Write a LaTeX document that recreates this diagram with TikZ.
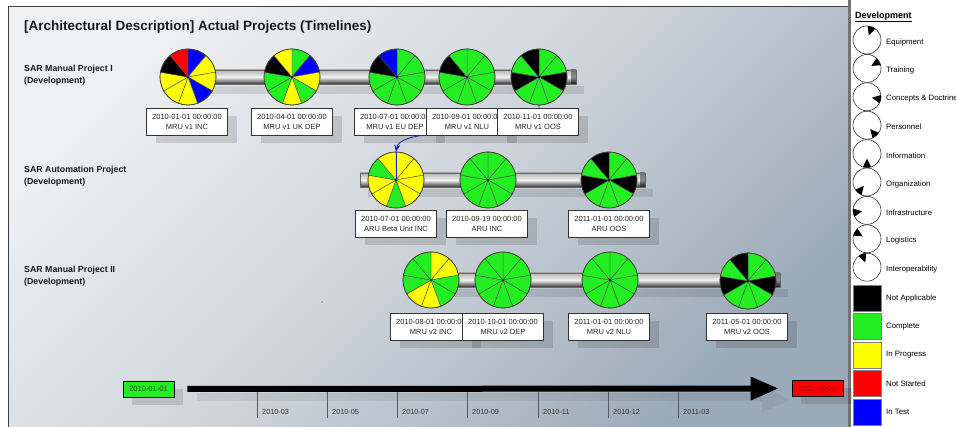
\documentclass[tikz,border=0pt]{standalone}
\usepackage{fontspec}
\setmainfont{Liberation Sans}
\usetikzlibrary{arrows.meta,shadows}
\definecolor{pG}{RGB}{34,238,34}
\definecolor{pY}{RGB}{255,255,0}
\definecolor{pR}{RGB}{255,0,0}
\definecolor{pB}{RGB}{0,0,255}
\definecolor{pK}{RGB}{0,0,0}
\definecolor{bgA}{RGB}{238,240,242}
\definecolor{bgM}{RGB}{205,212,218}
\definecolor{bgB}{RGB}{155,170,184}
\definecolor{navy}{RGB}{20,40,200}
\tikzset{
 lbl/.style={draw=black!80, line width=0.5pt, fill=white, minimum width=81pt, minimum height=27pt,
   inner sep=1pt, align=center, font=\fontsize{7.5}{10.5}\selectfont, text=black!85,
   drop shadow={shadow xshift=9pt, shadow yshift=-8pt, fill=black, opacity=0.13}},
 pienode/.style={circle, minimum size=56pt, inner sep=0pt},
 rowlbl/.style={anchor=north west, align=left, font=\bfseries\fontsize{8.8}{12}\selectfont, inner sep=0pt, text=black!90},
 legtxt/.style={anchor=west, inner sep=0pt, font=\fontsize{7.8}{9}\selectfont},
 legicon/.style={circle, draw=black!80, line width=0.6pt, minimum size=28pt, inner sep=0pt},
 legsq/.style={draw=black!50, line width=0.4pt, minimum width=28pt, minimum height=26pt, inner sep=0pt},
 tick/.style={draw=black!65, line width=0.6pt},
 ticklbl/.style={anchor=west, inner sep=0pt, font=\fontsize{7.3}{9}\selectfont, text=black!80},
 datebox/.style={draw=black, line width=0.6pt, minimum width=51pt, minimum height=16pt, inner sep=0pt,
   font=\fontsize{7.5}{9}\selectfont,
   drop shadow={shadow xshift=9pt, shadow yshift=-8pt, fill=black, opacity=0.12}},
 dep/.style={draw=navy, line width=0.8pt},
}
\newcommand\drawpie[2]{%
  \foreach \c [count=\i from 0] in {#2} {%
    \filldraw[fill=\c, draw=black!70, line width=0.4pt] (#1.center) -- ++({90-40*\i}:28pt)
      arc[start angle={90-40*\i}, delta angle=-40, radius=28pt] -- cycle;
  }
  \draw[black!70!olive, line width=0.7pt] (#1.center) circle (28pt);
  \fill[black] (#1.center) circle (0.9pt);
}
\newcommand\drawbar[3]{%
  \fill[black, opacity=0.10] (#1+8,#3-9) rectangle (#2+8,#3-17);
  \shadedraw[top color=black!30, bottom color=black!80, middle color=black!5, draw=black!60, line width=0.4pt]
     (#1,#3+7) rectangle (#2,#3-7);
  \shade[top color=black!55, bottom color=black!90, middle color=black!45] (#2-5,#3+7) rectangle (#2,#3-7);
}
\begin{document}
\begin{tikzpicture}[x=1pt,y=1pt]
\useasboundingbox (0,0) rectangle (956,-427);
\fill[white] (0,0) rectangle (956,-427);
% main panel
\shade[top color=bgA, bottom color=bgB, middle color=bgM, shading angle=45] (8,-7) rectangle (849,-427);
\draw[black!75, line width=1pt] (8,-427) -- (8,-7) -- (849,-7);
% legend panel
\fill[white] (849,0) rectangle (956,-427);
\fill[black!55] (848,0) rectangle (851,-427);

% title and row labels
\node[anchor=west, inner sep=0pt, font=\bfseries\fontsize{13.5}{16}\selectfont, text=black!90] (title) at (24,-27)
  {[Architectural Description] Actual Projects (Timelines)};
\node[rowlbl] (row1) at (24,-65) {SAR Manual Project I\\(Development)};
\node[rowlbl] (row2) at (24,-166) {SAR Automation Project\\(Development)};
\node[rowlbl] (row3) at (24,-266) {SAR Manual Project II\\(Development)};

% bars
\drawbar{162}{576}{-77}
\drawbar{360}{645}{-180}
\drawbar{440}{780}{-280}

% pies
\node[pienode] (p11) at (188,-77) {};
\node[pienode] (p12) at (292,-77) {};
\node[pienode] (p13) at (397,-77) {};
\node[pienode] (p14) at (467,-77) {};
\node[pienode] (p15) at (539,-77) {};
\node[pienode] (p21) at (396,-180) {};
\node[pienode] (p22) at (488,-180) {};
\node[pienode] (p23) at (609,-180) {};
\node[pienode] (p31) at (431,-280) {};
\node[pienode] (p32) at (503,-280) {};
\node[pienode] (p33) at (610,-280) {};
\node[pienode] (p34) at (748,-281) {};
\drawpie{p11}{pB,pY,pY,pB,pY,pY,pY,pK,pR}
\drawpie{p12}{pG,pB,pY,pG,pY,pG,pG,pK,pY}
\drawpie{p13}{pG,pG,pG,pG,pG,pG,pG,pK,pB}
\drawpie{p14}{pG,pG,pG,pG,pG,pG,pG,pK,pG}
\drawpie{p15}{pG,pG,pK,pG,pG,pG,pK,pG,pK}
\drawpie{p21}{pY,pY,pY,pY,pG,pY,pY,pG,pY}
\drawpie{p22}{pG,pG,pG,pG,pG,pG,pG,pG,pG}
\drawpie{p23}{pG,pG,pK,pG,pG,pG,pK,pG,pK}
\drawpie{p31}{pY,pY,pG,pG,pY,pY,pG,pG,pG}
\drawpie{p32}{pG,pG,pG,pG,pG,pG,pG,pG,pG}
\drawpie{p33}{pG,pG,pG,pG,pG,pG,pG,pG,pG}
\drawpie{p34}{pG,pG,pK,pG,pG,pG,pK,pG,pK}

% dependency connector
\draw[dep, -{Stealth[length=7pt,width=6pt]}] (p15.south) -- ++(0,-8)
   .. controls (520,-128) and (470,-132) .. (433,-134)
   .. controls (412,-136) and (398,-140) .. (p21.north);
\draw[dep] (p21.north) -- (p21.center);

% label boxes
\node[lbl] (b11) at (187,-122) {2010-01-01 00:00:00\\MRU v1 INC};
\node[lbl] (b12) at (292,-122) {2010-04-01 00:00:00\\MRU v1 UK DEP};
\node[lbl] (b13) at (395,-122) {2010-07-01 00:00:00\\MRU v1 EU DEP};
\node[lbl] (b14) at (467,-122) {2010-09-01 00:00:00\\MRU v1 NLU};
\node[lbl] (b15) at (538,-122) {2010-11-01 00:00:00\\MRU v1 OOS};
\node[lbl] (b21) at (396,-224) {2010-07-01 00:00:00\\ARU Beta Unit INC};
\node[lbl] (b22) at (487,-224) {2010-09-19 00:00:00\\ARU INC};
\node[lbl] (b23) at (609,-224) {2011-01-01 00:00:00\\ARU OOS};
\node[lbl] (b31) at (431,-327) {2010-08-01 00:00:00\\MRU v2 INC};
\node[lbl] (b32) at (503,-327) {2010-10-01 00:00:00\\MRU v2 DEP};
\node[lbl] (b33) at (609,-327) {2011-01-01 00:00:00\\MRU v2 NLU};
\node[lbl] (b34) at (747,-327) {2011-05-01 00:00:00\\MRU v2 OOS};

\fill[black!70] (322,-302) circle (0.6pt);

% time axis
\node[datebox, fill=pG, text=black!70!green] (t0) at (148.5,-389) {2010-01-01};
\node[datebox, fill=pR, text=black!40!red] (t1) at (817.5,-388.5) {2011-06-29};
\fill[black, opacity=0.07] (197,-393) rectangle (762,-401);
\fill[black, opacity=0.05] (762,-386) -- (790,-400) -- (762,-412) -- cycle;
\draw[line width=6pt, -{Triangle[length=28pt 0, width=22pt 0]}] ([xshift=13pt]t0.east) -- ([xshift=-13pt]t1.west);
\foreach \x/\t in {257/2010-03, 327/2010-05, 397/2010-07, 467/2010-09, 538/2010-11, 608/2010-12, 678/2011-03} {
  \draw[tick] (\x,-392) -- (\x,-418);
  \node[ticklbl] at (\x+5,-412) {\t};
}

% legend
\node[anchor=west, inner sep=0pt, font=\bfseries\fontsize{9}{11}\selectfont] (legtitle) at (855,-17) {\underline{Development}};
\foreach \nm/\c [count=\i from 0] in {Equipment/70, Training/30, Concepts \& Doctrine/-10, Personnel/-50,
    Information/-90, Organization/-130, Infrastructure/-170, Logistics/150, Interoperability/110} {
  \node[legicon] (li\i) at (867,{-40-28.4*\i}) {};
  \fill[black] ([shift={(\c:5pt)}]li\i.center) -- ([shift={({\c+17}:14pt)}]li\i.center)
     arc[start angle={\c+17}, end angle={\c-17}, radius=14pt] -- cycle;
  \node[legtxt] (lt\i) at (886,{-42-28.4*\i}) {\nm};
}
\foreach \col/\nm [count=\i from 0] in {pK/Not Applicable, pG/Complete, pY/In Progress, pR/Not Started, pB/In Test} {
  \node[legsq, fill=\col] (ls\i) at (867,{-298-28.5*\i}) {};
  \node[legtxt] (lst\i) at (886,{-298-28.5*\i}) {\nm};
}
\end{tikzpicture}
\end{document}
